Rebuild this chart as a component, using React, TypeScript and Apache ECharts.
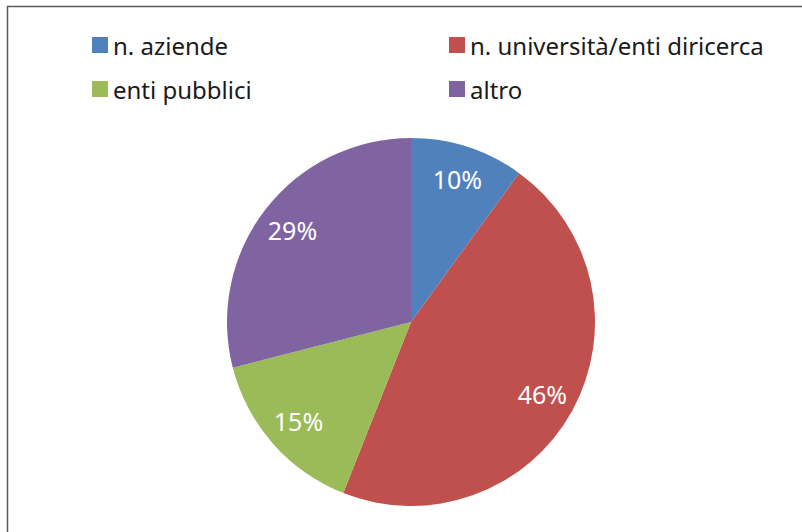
import React, { useEffect, useRef } from "react";
import * as echarts from "echarts";

const categories = ["n. aziende", "n. università/enti diricerca", "enti pubblici", "altro"];
const values = [10, 46, 15, 29];
const colors = ["#4F81BD", "#C0504D", "#9BBB59", "#8064A2"];
const legendPositions = [
  { left: 92, top: 33 },
  { left: 449, top: 33 },
  { left: 92, top: 77 },
  { left: 449, top: 77 },
];

export default function App() {
  const ref = useRef<HTMLDivElement>(null);
  useEffect(() => {
    if (!ref.current) return;
    const chart = echarts.init(ref.current, null, { renderer: "svg" });
    const data = categories.map((name, i) => ({
      name,
      value: values[i],
      itemStyle: { color: colors[i] },
    }));
    chart.setOption({
      animation: false,
      backgroundColor: "#ffffff",
      legend: categories.map((name, i) => ({
        data: [name],
        left: legendPositions[i].left,
        top: legendPositions[i].top,
        itemWidth: 16,
        itemHeight: 16,
        itemGap: 6,
        icon: "rect",
        padding: 0,
        selectedMode: false,
        textStyle: {
          fontFamily: "Noto Sans",
          fontSize: 24,
          lineHeight: 24,
          color: "#1a1a1a",
        },
      })),
      graphic: [
        {
          type: "rect",
          shape: { x: 7.5, y: 6.5, width: 830, height: 560 },
          style: { fill: "none", stroke: "#5a5a5a", lineWidth: 1.5 },
          silent: true,
        },
      ],
      series: [
        {
          type: "pie",
          center: [411, 322],
          radius: [0, 184],
          startAngle: 90,
          clockwise: true,
          label: { show: false },
          labelLine: { show: false },
          emphasis: { disabled: true },
          data,
        },
        {
          type: "pie",
          center: [411, 322],
          radius: [110, 184],
          startAngle: 90,
          clockwise: true,
          silent: true,
          itemStyle: { color: "transparent", borderWidth: 0 },
          label: {
            show: true,
            position: "inside",
            formatter: (p: any) => `${p.value}%`,
            color: "#ffffff",
            fontFamily: "Noto Sans",
            fontSize: 25,
          },
          labelLine: { show: false },
          emphasis: { disabled: true },
          data: categories.map((name, i) => ({
            name,
            value: values[i],
            itemStyle: { color: "transparent" },
          })),
        },
      ],
    });
    return () => chart.dispose();
  }, []);
  return (
    <div
      ref={ref}
      style={{ position: "fixed", left: 0, top: 0, width: 802, height: 532 }}
    />
  );
}
